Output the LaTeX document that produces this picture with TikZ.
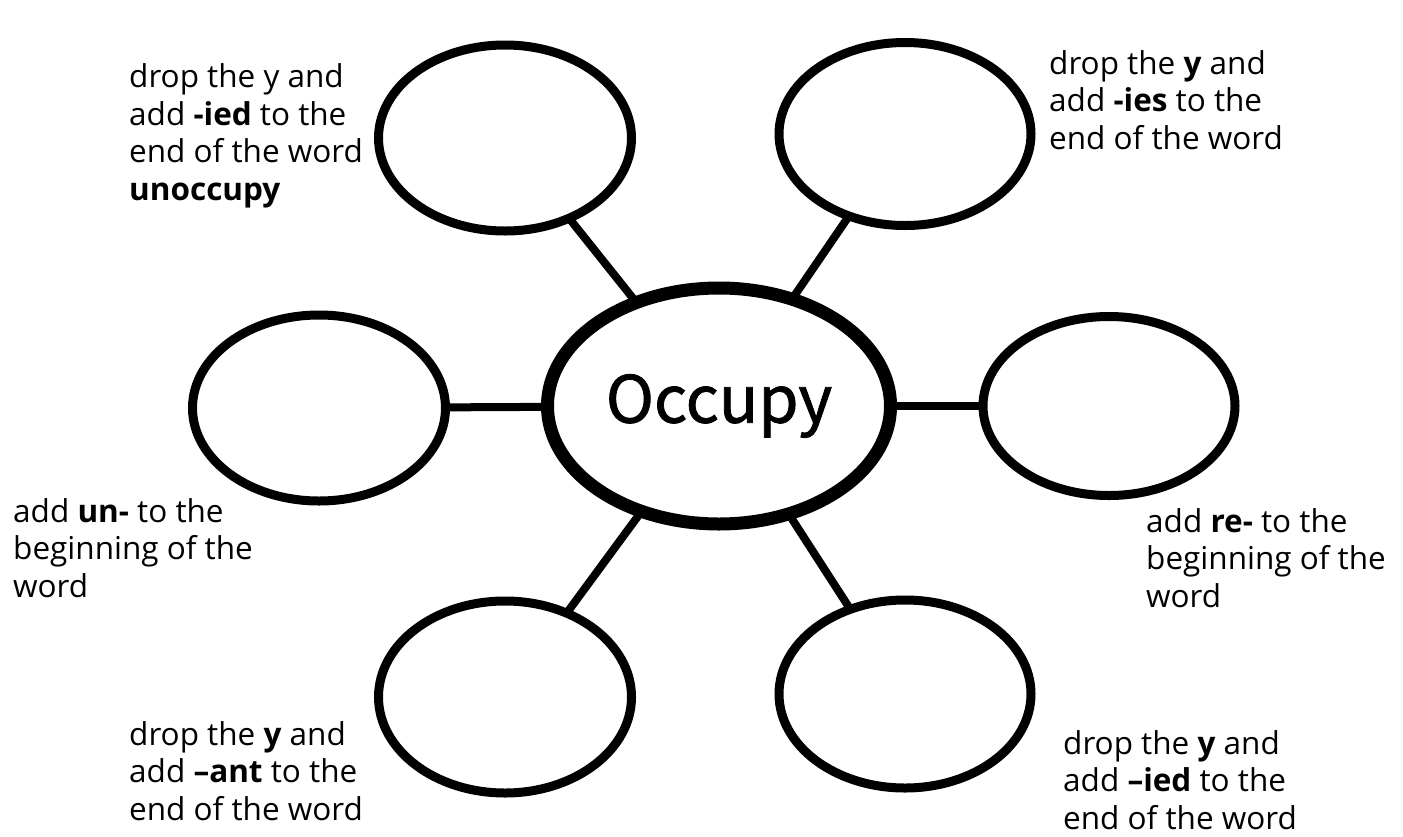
\documentclass[tikz,border=0pt]{standalone}
\usepackage{fontspec}
\setmainfont{Open Sans}
\newfontfamily\occfont[FakeBold=1.2]{Noto Sans CJK JP}
\usetikzlibrary{shapes.geometric,backgrounds}

\begin{document}
\begin{tikzpicture}[x=1pt,y=-1pt,
        bubble/.style={ellipse,draw=black,line width=9pt,inner sep=0pt,fill=white},
        hub/.style={ellipse,draw=black,line width=13pt,inner sep=0pt,fill=white,
            font=\occfont\fontsize{65}{78}\selectfont},
        spoke/.style={black,line width=8pt},
        hint/.style={align=left,anchor=base west,inner sep=0pt,
            font=\fontsize{31.5}{37.5}\selectfont}]

        \useasboundingbox (0,0) rectangle (1403,836);

        % Draw bubbles
        \node[hub,minimum width=343pt,minimum height=236pt] (occupy) at (719,406) {Occupy};
        \node[bubble,minimum width=253pt,minimum height=186pt] (tl) at (505,138) {};
        \node[bubble,minimum width=252pt,minimum height=183pt] (tr) at (905,134) {};
        \node[bubble,minimum width=253pt,minimum height=186pt] (l) at (319,408) {};
        \node[bubble,minimum width=252pt,minimum height=179pt] (r) at (1109,406) {};
        \node[bubble,minimum width=253pt,minimum height=192pt] (bl) at (505,697) {};
        \node[bubble,minimum width=252pt,minimum height=188pt] (br) at (905,694) {};

        % Draw spokes
        \begin{scope}[on background layer]
            \foreach \b in {tl,tr,l,r,bl,br}
                \draw[spoke] (occupy.center) -- (\b.center);
        \end{scope}

        % Hints (base = last line)
        \node[hint] (tlhint) at (129,200) {drop the y and\\add \textbf{-ied} to the\\end of the word\\\textbf{unoccupy}};
        \node[hint] (trhint) at (1049,149) {drop the \textbf{y} and\\add \textbf{-ies} to the\\end of the word};
        \node[hint] (lhint) at (13,597) {add \textbf{un-} to the\\beginning of the\\word};
        \node[hint] (rhint) at (1146,607) {add \textbf{re-} to the\\beginning of the\\word};
        \node[hint] (blhint) at (129,820) {drop the \textbf{y} and\\add \textbf{--ant} to the\\end of the word};
        \node[hint] (brhint) at (1063,829) {drop the \textbf{y} and\\add \textbf{--ied} to the\\end of the word};

    \end{tikzpicture}
\end{document}
